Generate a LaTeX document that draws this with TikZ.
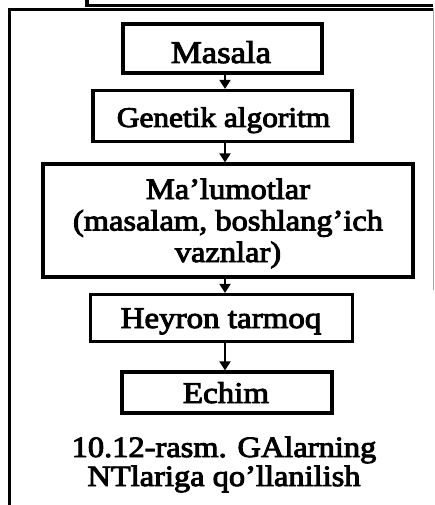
\documentclass[tikz,border=0pt]{standalone}
\usepackage{fontspec}
\setmainfont{Liberation Serif}
\usetikzlibrary{arrows.meta}
% text is filled and stroked to give the heavy printed look
\newcommand{\wtxt}[3]{\special{pdf:code q 2 Tr 0.9 w}\scalebox{1.1}[1]{\fontsize{#1}{#2}\selectfont #3}\special{pdf:code Q}}
\tikzset{
  box/.style={draw, line width=3.2pt, inner sep=0pt, rectangle},
  lbl/.style={inner sep=0pt, anchor=base},
  flow/.style={line width=2pt, -{Triangle[length=9pt,width=11pt]}},
  frame/.style={line width=3.2pt},
  thinframe/.style={line width=1pt, black!35},
}
\begin{document}
\begin{tikzpicture}[x=1pt,y=1pt]
\useasboundingbox (0,0) rectangle (435,-505);
% frame pieces
\draw[frame, line width=3.5pt] (87,0) -- (87,-5.5) -- (433,-5.5);
\draw[frame] (433,-9.5) -- (9.5,-9.5) -- (9.5,-505);
\draw[thinframe] (433,-8) -- (433,-290);
% boxes
\node[box, minimum width=199pt, minimum height=49pt] (masala) at (222.5,-48.5) {};
\node[box, minimum width=259pt, minimum height=51pt] (genetik) at (222.5,-116) {};
\node[box, minimum width=370pt, minimum height=113pt] (malumot) at (228,-220.5) {};
\node[box, minimum width=262pt, minimum height=47pt] (heyron) at (221.5,-318) {};
\node[box, minimum width=210pt, minimum height=41pt] (echim) at (227,-392.5) {};
% texts
\node[lbl] (tmasala) at (221,-63) {\wtxt{31.5}{32}{Masala}};
\node[lbl] (tgenetik) at (223.5,-127) {\wtxt{28.5}{30}{Genetik algoritm}};
\node[lbl] (tmalumot) at (228,-199) {\wtxt{29.5}{31.5}{\begin{tabular}[t]{@{}c@{}}Ma’lumotlar\\(masalam, boshlang’ich\\vaznlar)\end{tabular}}};
\node[lbl] (theyron) at (221,-328) {\wtxt{30}{31}{Heyron tarmoq}};
\node[lbl] (techim) at (226,-403) {\wtxt{30}{31}{Echim}};
\node[lbl] (caption) at (224,-457) {\wtxt{29.5}{28.5}{\begin{tabular}[t]{@{}c@{}}10.12-rasm. GAlarning\\NTlariga qo’llanilish\end{tabular}}};
% connectors
\coordinate (ax) at (225,0);
\draw[flow] (masala.south -| ax) -- (genetik.north -| ax);
\draw[flow] (genetik.south -| ax) -- (malumot.north -| ax);
\draw[flow] (malumot.south -| ax) -- (heyron.north -| ax);
\draw[flow] (heyron.south -| ax) -- (echim.north -| ax);
\end{tikzpicture}
\end{document}
